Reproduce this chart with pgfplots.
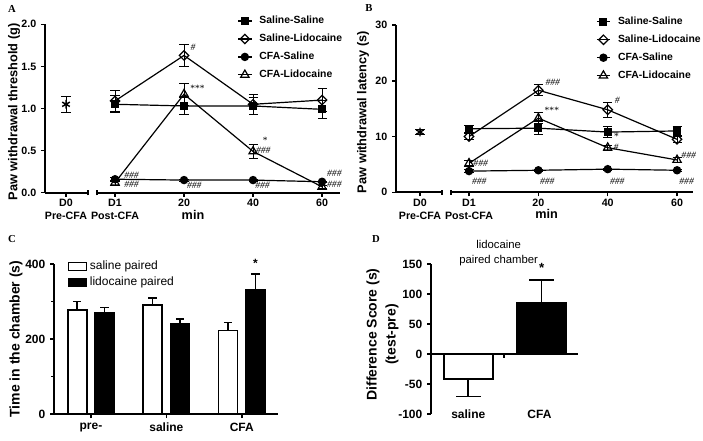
\documentclass[border=0pt]{standalone}
\usepackage{pgfplots}
\pgfplotsset{compat=1.18}
\usepackage{fontspec}
\setmainfont{Liberation Sans}
\newfontfamily\timesf{Liberation Serif}
\pgfplotsset{
  gp/.style={
    scale only axis, axis lines*=left, clip=false,
    axis line style={line width=1.3pt},
    every tick/.style={line width=1.1pt, black},
    tick align=outside, major tick length=3pt, minor tick length=2pt,
    /pgf/number format/assume math mode=true,
  },
  eb/.style={error bars/y dir=both, error bars/y explicit,
    error bars/error bar style={line width=0.6pt, black, solid},
    error bars/error mark options={line width=0.6pt, mark size=3.4pt, black, rotate=90}},
  ebar/.style={forget plot, draw=none, mark=none,
    error bars/y explicit, error bars/error bar style={draw=black, solid, line width=1.2pt},
    error bars/error mark options={draw=black, line width=1.2pt, mark size=#1, rotate=90}},
  sq/.style={black, line width=0.9pt, mark=square*, mark size=2.6pt, mark options={solid}},
  di/.style={black, line width=0.9pt, mark=square, mark size=2.5pt, mark options={rotate=45, fill=white, solid}},
  ci/.style={black, line width=0.9pt, mark=*, mark size=2.7pt},
  tr/.style={black, line width=0.9pt, mark=triangle, mark size=3.6pt, mark options={fill=white}},
  lineleg/.style={legend image code/.code={\draw[mark repeat=2, mark phase=2, ##1] plot coordinates {(0pt,0pt) (5pt,0pt) (10pt,0pt)};}},
}
\tikzset{an/.style={font=\timesf\itshape\fontsize{7.2}{8}\selectfont, inner sep=0pt}}
\begin{document}
\begin{tikzpicture}
\path[use as bounding box] (0,0) rectangle (527.25pt,330pt);
% panel letters
\node[font=\timesf\bfseries\fontsize{8}{9}\selectfont] at (9pt,323.25pt) {A};
\node[font=\timesf\bfseries\fontsize{8}{9}\selectfont] at (276.75pt,324pt) {B};
\node[font=\timesf\bfseries\fontsize{8}{9}\selectfont] at (9pt,150.75pt) {C};
\node[font=\timesf\bfseries\fontsize{8}{9}\selectfont] at (282pt,150.75pt) {D};

% ---------------- Panel A
\begin{axis}[gp, lineleg, at={(33.75pt,185.475pt)}, anchor=south west,
  width=221.25pt, height=126.3pt,
  xmin=-0.0145, xmax=4.26, ymin=0, ymax=2,
  ytick={0,0.5,1,1.5,2}, yticklabels={0.0,0.5,1.0,1.5,2.0},
  xtick={0.29,1,2,3,4}, xticklabels={D0\\Pre-CFA,D1\\Post-CFA,20,40,60},
  xticklabel style={align=center, yshift=1.5pt},
  tick label style={font=\bfseries\fontsize{8}{9.6}\selectfont},
  x axis line style={draw=none},
  ylabel={Paw withdrawal threshold (g)},
  ylabel style={font=\bfseries\fontsize{9.6}{10}\selectfont, at={(axis description cs:-0.105,0.48)}, anchor=center},
  legend style={draw=none, fill=none, at={(axis description cs:0.652,1.065)}, anchor=north west, font=\bfseries\fontsize{7.8}{8}\selectfont, inner sep=0pt, row sep=2.3pt, column sep=3.5pt},
  legend cell align=left,
]
\addplot[sq, eb] coordinates {(1,1.05) +- (0,0.10) (2,1.03) +- (0,0.10) (3,1.03) +- (0,0.10) (4,0.99) +- (0,0.11)};
\addlegendentry{Saline-Saline}
\addplot[di, eb] coordinates {(1,1.09) +- (0,0.13) (2,1.63) +- (0,0.13) (3,1.05) +- (0,0.12) (4,1.10) +- (0,0.14)};
\addlegendentry{Saline-Lidocaine}
\addplot[ci, eb] coordinates {(1,0.16) +- (0,0.02) (2,0.15) +- (0,0.01) (3,0.15) +- (0,0.01) (4,0.13) +- (0,0.01)};
\addlegendentry{CFA-Saline}
\addplot[tr, eb] coordinates {(1,0.12) +- (0,0.03) (2,1.17) +- (0,0.13) (3,0.49) +- (0,0.08) (4,0.07) +- (0,0.02)};
\addlegendentry{CFA-Lidocaine}
\addplot[black, only marks, mark=asterisk, mark size=3.3pt, line width=1.1pt, eb, forget plot] coordinates {(0.29,1.05) +- (0,0.095)};
\draw[line width=1.3pt] (axis cs:-0.0145,0) -- (axis cs:0.61,0);
\draw[line width=1.3pt] (axis cs:0.74,0) -- (axis cs:4.26,0);
\draw[line width=1pt] ([yshift=-2pt]axis cs:0.61,0) -- ([yshift=2pt]axis cs:0.61,0);
\draw[line width=1pt] ([yshift=-2pt]axis cs:0.74,0) -- ([yshift=2pt]axis cs:0.74,0);
\node[font=\bfseries\fontsize{9.5}{11}\selectfont] at (axis cs:2.13,0) [yshift=-16.5pt] {min};
\node[an, anchor=west] at (axis cs:2.09,1.73) {\#};
\node[an, anchor=west] at (axis cs:2.08,1.24) {***};
\node[an] at (axis cs:3.17,0.625) {*};
\node[an, anchor=west] at (axis cs:3.04,0.50) {\#\#\#};
\node[an, anchor=west] at (axis cs:1.13,0.21) {\#\#\#};
\node[an, anchor=west] at (axis cs:1.13,0.095) {\#\#\#};
\node[an, anchor=west] at (axis cs:2.04,0.09) {\#\#\#};
\node[an, anchor=west] at (axis cs:3.03,0.09) {\#\#\#};
\node[an, anchor=west] at (axis cs:4.07,0.225) {\#\#\#};
\node[an, anchor=west] at (axis cs:4.07,0.105) {\#\#\#};
\end{axis}

% ---------------- Panel B
\begin{axis}[gp, lineleg, at={(297pt,185.775pt)}, anchor=south west,
  width=222.75pt, height=125.475pt,
  xmin=-0.053, xmax=4.23, ymin=0, ymax=30,
  ytick={0,10,20,30},
  xtick={0.293,1,2,3,4}, xticklabels={D0\\Pre-CFA,D1\\Post-CFA,20,40,60},
  xticklabel style={align=center, yshift=1.5pt},
  tick label style={font=\bfseries\fontsize{8}{9.6}\selectfont},
  x axis line style={draw=none},
  ylabel={Paw withdrawal latency (s)},
  ylabel style={font=\bfseries\fontsize{9.6}{10}\selectfont, at={(axis description cs:-0.111,0.48)}, anchor=center},
  legend style={draw=none, fill=none, at={(axis description cs:0.673,1.065)}, anchor=north west, font=\bfseries\fontsize{7.8}{8}\selectfont, inner sep=0pt, row sep=2.3pt, column sep=3.5pt},
  legend cell align=left,
]
\addplot[sq, eb] coordinates {(1,11.4) +- (0,0.6) (2,11.5) +- (0,1.2) (3,10.8) +- (0,1.0) (4,11.0) +- (0,0.8)};
\addlegendentry{Saline-Saline}
\addplot[di, eb] coordinates {(1,10.0) +- (0,0.5) (2,18.3) +- (0,1.0) (3,14.8) +- (0,1.3) (4,9.5) +- (0,0.6)};
\addlegendentry{Saline-Lidocaine}
\addplot[ci, eb] coordinates {(1,3.8) +- (0,0.3) (2,3.95) +- (0,0.2) (3,4.15) +- (0,0.2) (4,3.95) +- (0,0.2)};
\addlegendentry{CFA-Saline}
\addplot[tr, eb] coordinates {(1,5.2) +- (0,0.5) (2,13.3) +- (0,1.0) (3,8.0) +- (0,0.5) (4,5.8) +- (0,0.4)};
\addlegendentry{CFA-Lidocaine}
\addplot[black, only marks, mark=asterisk, mark size=3.3pt, line width=1.1pt, eb, forget plot] coordinates {(0.293,10.8) +- (0,0.5)};
\draw[line width=1.3pt] (axis cs:-0.053,0) -- (axis cs:0.61,0);
\draw[line width=1.3pt] (axis cs:0.74,0) -- (axis cs:4.23,0);
\draw[line width=1pt] ([yshift=-2pt]axis cs:0.61,0) -- ([yshift=2pt]axis cs:0.61,0);
\draw[line width=1pt] ([yshift=-2pt]axis cs:0.74,0) -- ([yshift=2pt]axis cs:0.74,0);
\node[font=\bfseries\fontsize{9.5}{11}\selectfont] at (axis cs:2.12,0) [yshift=-16.5pt] {min};
\node[an, anchor=west] at (axis cs:2.10,19.65) {\#\#\#};
\node[an, anchor=west] at (axis cs:2.08,14.75) {***};
\node[an, anchor=west] at (axis cs:3.10,16.5) {\#};
\node[an] at (axis cs:3.12,10.0) {*};
\node[an, anchor=west] at (axis cs:3.08,8.1) {\#};
\node[an, anchor=west] at (axis cs:1.06,5.2) {\#\#\#};
\node[an, anchor=west] at (axis cs:4.06,6.56) {\#\#\#};
\node[an, anchor=west] at (axis cs:1.04,2.03) {\#\#\#};
\node[an, anchor=west] at (axis cs:2.02,2.03) {\#\#\#};
\node[an, anchor=west] at (axis cs:3.03,2.03) {\#\#\#};
\node[an, anchor=west] at (axis cs:4.03,2.03) {\#\#\#};
\end{axis}

% ---------------- Panel C
\begin{axis}[gp, at={(40.5pt,19.5pt)}, anchor=south west, width=168pt, height=112.5pt,
  xmin=-0.49, xmax=2.48, ymin=0, ymax=400,
  ytick={0,200,400}, minor ytick={100,300},
  xtick={0,1,2}, xticklabels={pre-,saline,CFA},
  tick label style={font=\bfseries\fontsize{9}{11}\selectfont},
  ylabel={Time in the chamber (s)},
  ylabel style={font=\bfseries\fontsize{10.5}{12}\selectfont, at={(axis description cs:-0.17,0.5)}, anchor=center},
  legend style={draw=none, fill=none, at={(axis description cs:0.06,1.04)}, anchor=north west, font=\fontsize{9}{10}\selectfont, inner sep=0pt, row sep=0pt},
  legend cell align=left,
  legend image code/.code={\draw[#1, line width=1.1pt] (0pt,-3pt) rectangle (13.5pt,3pt);},
]
\addplot[ybar, bar width=14.25pt, bar shift=-10.3pt, fill=white, draw=black, line width=1.2pt]
  coordinates {(0,277) (1,291) (2,223)};
\addlegendentry{saline paired}
\addplot[ybar, bar width=14.25pt, bar shift=10.3pt, fill=black, draw=black, line width=1.2pt]
  coordinates {(0,270) (1,241) (2,332)};
\addlegendentry{lidocaine paired}
\addplot[ebar=3.2pt, error bars/y dir=plus] coordinates {(-0.182,277) +- (0,23) (0.818,291) +- (0,19) (1.818,223) +- (0,21)};
\addplot[ebar=3.2pt, error bars/y dir=plus] coordinates {(0.182,270) +- (0,14) (1.182,241) +- (0,13) (2.182,332) +- (0,41)};
\node[font=\bfseries\fontsize{9}{10}\selectfont] at (axis cs:2.182,402) {*};
\end{axis}

% ---------------- Panel D
\begin{axis}[gp, at={(323.25pt,19.5pt)}, anchor=south west, width=110.25pt, height=112.5pt,
  xmin=-0.508, xmax=1.495, ymin=-100, ymax=150,
  ytick={-100,-50,0,50,100,150}, yticklabels={-100,-50,0,50,100,150},
  xtick={0,0.97}, xticklabels={saline,CFA},
  x axis line style={draw=none}, xtick style={draw=none},
  tick label style={font=\bfseries\fontsize{9}{11}\selectfont},
  xticklabel style={anchor=base},
  ylabel={Difference Score (s)\\(test-pre)},
  ylabel style={align=center, font=\bfseries\fontsize{10.5}{14.25}\selectfont, at={(axis description cs:-0.33,0.53)}, anchor=center},
  title={lidocaine\\paired chamber},
  title style={align=center, font=\fontsize{8.5}{11}\selectfont, at={(axis description cs:0.46,1)}, anchor=south, inner sep=0pt, yshift=-7.5pt},
]
\addplot[ybar, bar width=36.75pt, bar shift=0pt, fill=white, draw=black, line width=1.2pt]
  coordinates {(0,-42)};
\addplot[ybar, bar width=36.75pt, bar shift=0pt, fill=black, draw=black, line width=1.2pt]
  coordinates {(1,86)};
\addplot[ebar=9.2pt, error bars/y dir=minus] coordinates {(0,-42) +- (0,29)};
\addplot[ebar=9.2pt, error bars/y dir=plus] coordinates {(1,86) +- (0,37)};
\draw[line width=1.3pt] (axis cs:-0.508,0) -- (axis cs:1.495,0);
\draw[line width=1.1pt] (axis cs:0.486,0) -- ([yshift=-3pt]axis cs:0.486,0);
\node[font=\bfseries\fontsize{10}{11}\selectfont] at (axis cs:1,144) {*};
\end{axis}
\end{tikzpicture}
\end{document}
